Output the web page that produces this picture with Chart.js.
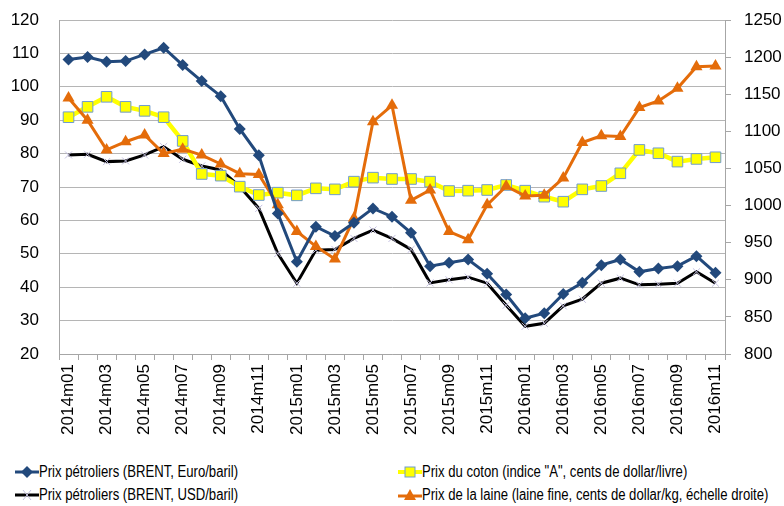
<!DOCTYPE html>
<html>
<head>
<meta charset="utf-8">
<script src="https://cdn.jsdelivr.net/npm/chart.js"></script>
<style>
  html, body { margin: 0; padding: 0; background: #fff; }
  body { width: 784px; height: 506px; position: relative; overflow: hidden; font-family: 'Liberation Sans', Arial, sans-serif; }
  #wrap { position: absolute; left: 0; top: 0; width: 784px; height: 443px; }
  .leg { position: absolute; font-size: 16px; color: #000; white-space: nowrap; display: flex; align-items: center; }
  .leg span { display: inline-block; transform: scaleX(0.82); transform-origin: left center; }
</style>
</head>
<body>
<div id="wrap"><canvas id="chart"></canvas></div>

<div class="leg" style="left:15px; top:463px;">
  <svg width="24" height="14"><line x1="0" y1="7" x2="24" y2="7" stroke="#22497c" stroke-width="3"/><polygon points="12,1 18,7 12,13 6,7" fill="#22497c"/></svg><span>Prix pétroliers (BRENT, Euro/baril)</span>
</div>
<div class="leg" style="left:15px; top:486px;">
  <svg width="24" height="14"><line x1="0" y1="7" x2="24" y2="7" stroke="#000" stroke-width="3"/><line x1="8" y1="2" x2="16" y2="12" stroke="#c3bfe0" stroke-width="1"/><line x1="16" y1="2" x2="8" y2="12" stroke="#c3bfe0" stroke-width="1"/></svg><span>Prix pétroliers (BRENT, USD/baril)</span>
</div>
<div class="leg" style="left:398px; top:463px;">
  <svg width="24" height="14"><line x1="0" y1="7" x2="24" y2="7" stroke="#ffff00" stroke-width="4"/><rect x="7" y="2" width="10" height="10" fill="#ffff00" stroke="#6f9bd1" stroke-width="1"/></svg><span>Prix du coton (indice "A", cents de dollar/livre)</span>
</div>
<div class="leg" style="left:398px; top:486px;">
  <svg width="24" height="14"><line x1="0" y1="8" x2="24" y2="8" stroke="#e46c0a" stroke-width="3"/><polygon points="12,1 18,12 6,12" fill="#e46c0a"/></svg><span>Prix de la laine (laine fine, cents de dollar/kg, échelle droite)</span>
</div>

<script>
// Months 2014m01 .. 2016m11
const months = [
  '2014m01','2014m02','2014m03','2014m04','2014m05','2014m06','2014m07','2014m08','2014m09','2014m10','2014m11','2014m12',
  '2015m01','2015m02','2015m03','2015m04','2015m05','2015m06','2015m07','2015m08','2015m09','2015m10','2015m11','2015m12',
  '2016m01','2016m02','2016m03','2016m04','2016m05','2016m06','2016m07','2016m08','2016m09','2016m10','2016m11'
];

// Brent in euro / barrel
const brentEuro = [108.2, 108.9, 107.5, 107.7, 109.7, 111.7, 106.5, 101.7, 97.2, 87.4, 79.5, 62.1,
  47.6, 58.1, 55.3, 59.3, 63.6, 61.1, 56.3, 46.3, 47.3, 48.3, 44.0, 37.8,
  30.7, 32.2, 38.0, 41.3, 46.6, 48.3, 44.6, 45.6, 46.3, 49.3, 44.3];

// Brent in USD / barrel
const brentUsd = [79.6, 79.8, 77.6, 77.8, 79.6, 82.1, 78.3, 76.3, 75.1, 70.1, 63.6, 50.1,
  41.2, 51.1, 51.3, 54.6, 57.1, 54.6, 51.3, 41.3, 42.2, 43.0, 41.2, 34.6,
  28.3, 29.2, 34.4, 36.4, 41.2, 42.7, 40.7, 40.9, 41.2, 44.6, 41.2];

// Cotton, index "A", cents / lb
const cotton = [90.9, 94.0, 97.0, 94.0, 92.8, 90.9, 83.8, 73.9, 73.4, 70.1, 67.6, 68.3,
  67.5, 69.6, 69.3, 71.6, 72.8, 72.4, 72.4, 71.6, 68.8, 68.9, 69.1, 70.6,
  68.9, 67.1, 65.6, 69.3, 70.3, 74.1, 81.1, 80.1, 77.6, 78.4, 78.9];

// Fine wool, cents / kg (right axis)
const wool = [1145, 1115, 1075, 1086, 1095, 1070, 1076, 1068, 1056, 1043, 1042, 1001,
  965, 945, 928, 983, 1113, 1135, 1007, 1021, 965, 954, 1001, 1026,
  1013, 1014, 1037, 1085, 1094, 1093, 1132, 1141, 1158, 1187, 1188];

const leftTicks = { min: 20, max: 120, step: 10 };
const rightTicks = { min: 800, max: 1250, step: 50 };

const tickFont = { family: "'Liberation Sans', Arial, sans-serif", size: 17 };

// fixed axis box sizes so the plot area sits where the original one does
function fitY(s) {
  s.width = 59;
  s.paddingTop = 0;
  s.paddingBottom = 0;
}

new Chart(document.getElementById('chart'), {
  type: 'line',
  data: {
    labels: months,
    datasets: [
      {
        label: 'Prix pétroliers (BRENT, Euro/baril)',
        data: brentEuro,
        yAxisID: 'y',
        borderColor: '#22497c',
        backgroundColor: '#22497c',
        borderWidth: 3,
        pointStyle: 'rectRot',
        pointRadius: 6,
        pointBorderWidth: 0,
        order: 1
      },
      {
        label: 'Prix du coton (indice "A", cents de dollar/livre)',
        data: cotton,
        yAxisID: 'y',
        borderColor: '#ffff00',
        backgroundColor: '#ffff00',
        borderWidth: 4.5,
        pointStyle: 'rect',
        pointRadius: 7.5,
        pointBorderColor: '#6f9bd1',
        pointBorderWidth: 1,
        order: 3
      },
      {
        label: 'Prix pétroliers (BRENT, USD/baril)',
        data: brentUsd,
        yAxisID: 'y',
        borderColor: '#000000',
        backgroundColor: 'rgba(0,0,0,0)',
        borderWidth: 3,
        pointStyle: 'crossRot',
        pointRadius: 5,
        pointBorderColor: '#c3bfe0',
        pointBorderWidth: 1,
        order: 4
      },
      {
        label: 'Prix de la laine (laine fine, cents de dollar/kg, échelle droite)',
        data: wool,
        yAxisID: 'y2',
        borderColor: '#e46c0a',
        backgroundColor: '#e46c0a',
        borderWidth: 3,
        pointStyle: 'triangle',
        pointRadius: 7,
        pointBorderWidth: 0,
        order: 2
      }
    ]
  },
  options: {
    responsive: true,
    maintainAspectRatio: false,
    animation: false,
    layout: { autoPadding: false, padding: { left: 0, right: 0, top: 20, bottom: 0 } },
    elements: { line: { tension: 0 } },
    plugins: {
      legend: { display: false },
      tooltip: { enabled: false }
    },
    scales: {
      x: {
        offset: true,
        afterFit: s => { s.height = 89; },
        grid: { offset: true, drawOnChartArea: false, tickLength: 6, color: '#a6a6a6' },
        border: { color: '#a6a6a6' },
        ticks: {
          autoSkip: false,
          maxRotation: 90,
          minRotation: 90,
          padding: 4,
          color: '#000',
          font: tickFont,
          callback: function (value, index) {
            return index % 2 === 0 ? months[index] : '';
          }
        }
      },
      y: {
        position: 'left',
        min: leftTicks.min,
        max: leftTicks.max,
        afterFit: fitY,
        grid: { color: '#b5b5b5', drawTicks: false },
        border: { color: '#a6a6a6' },
        ticks: { stepSize: leftTicks.step, padding: 20, color: '#000', font: tickFont }
      },
      y2: {
        position: 'right',
        min: rightTicks.min,
        max: rightTicks.max,
        afterFit: fitY,
        grid: { drawOnChartArea: false, tickLength: 6, color: '#a6a6a6' },
        border: { color: '#a6a6a6' },
        ticks: {
          stepSize: rightTicks.step, padding: 13, color: '#000', font: tickFont,
          callback: v => String(v)
        }
      }
    }
  }
});
</script>
</body>
</html>
